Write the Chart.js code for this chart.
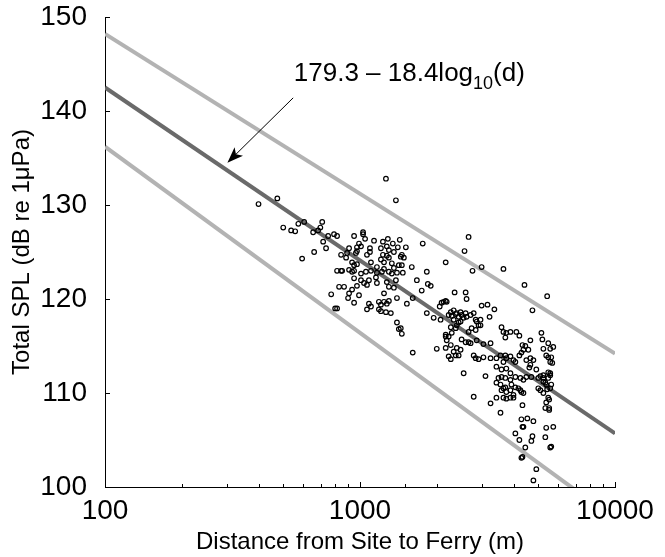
<!DOCTYPE html>
<html>
<head>
<meta charset="utf-8">
<script src="https://cdn.jsdelivr.net/npm/chart.js@4.4.0/dist/chart.umd.min.js"></script>
<style>
  html, body { margin: 0; padding: 0; background: #fff; }
  #wrap { width: 665px; height: 557px; }
</style>
</head>
<body>
<div id="wrap"><canvas id="chart" width="665" height="557"></canvas></div>
<script>
// measured points, distance (m) and total SPL (dB re 1uPa)
const distances = [
  400, 474, 500, 537, 557, 573, 604, 711, 699, 655, 685, 750, 791, 717, 736, 661, 593,
  1264, 1383, 813, 948, 1028, 1028, 1047, 1135, 1286, 1432, 1345, 1230, 1762, 1513, 1407, 1274,
  991, 973, 1009, 906, 1094, 1208, 1298, 1358, 973, 964, 1094, 843, 882, 890, 1065, 1230,
  1274, 1445, 1486, 1459, 931, 973, 948, 1104, 1208, 1242, 1298, 1333, 1420, 1459, 1596, 1828,
  851, 906, 948, 2168,
  2666, 2570, 2999, 2762, 3652,
  771, 799,
  813, 843, 931, 1009, 1055, 1104, 1165, 1219, 1298, 1333, 1396, 1472, 1671, 828, 866, 906,
  931, 973, 991, 1009, 1037, 1065, 1084, 948, 898, 948, 813, 1065, 1104, 1084, 1186, 1208,
  1242, 1298, 1274, 1186, 1208, 1264, 1321, 1242, 1298, 1358, 1383, 1274, 1165, 1155, 1396, 1527,
  1746, 1845, 1894, 1610, 1396, 1445, 1459, 1420, 1610, 2000, 1828, 1945, 2070, 2054, 2128, 2089,
  2168, 2168, 1165, 1242, 1358,
  4416, 5420, 4745, 2350, 2596, 2618, 2168, 2188, 2999, 3162, 3365, 3222,
  2270, 2330, 2396, 2480, 2227, 2290, 2374, 2437, 2503, 2550, 2618, 2596, 2715, 2792, 2842, 2868,
  2969, 2917, 2740, 2842, 2969, 2666, 2437, 2330, 2396, 2480, 2270, 2374, 2290, 2227, 2168, 2188,
  3589, 3652, 3748, 3890, 3715, 4104, 4217, 4657, 5145, 5190, 5474, 5727, 5573, 5237,
  2715, 2868, 3048, 3251, 2666, 2596, 2503, 2270, 2396, 2480, 2330, 2227, 2270, 2374, 2437,
  2792, 2842, 2917, 3048, 3251, 3428, 3556, 3715, 3748, 3890, 3998, 3652, 3428, 3589, 3748, 3890,
  4067, 4217, 4374, 4449, 4336, 4490, 4657, 4786, 4614, 4657, 4914, 5097, 5237, 5474, 5573, 5623,
  5374, 4573, 4295, 2550, 3105,
  3492, 3589, 3715, 3890, 4067, 4256, 4374, 4490, 4699, 5003, 5237, 5474, 5573,
  3428, 3556, 3652, 3715, 3589, 3748, 3890, 3925, 4067, 4180, 4256, 4295, 4374, 3998, 3890, 3748,
  3652, 3998, 5003, 5097, 5237, 5374, 5573, 5623,
  2792, 3428, 3251, 3556, 4336, 5474, 5374, 5330, 5520, 4295, 4532, 4786, 4336, 4374, 4067, 4217,
  4449, 4699, 4745, 4336, 4295, 4914, 4786, 5374, 5727, 5330, 5573, 5623,
  5474, 5675, 5237, 5330, 5573, 5420, 5520, 5520
];
const levels = [
  130.1, 130.7, 127.6, 127.3, 127.2, 128.0, 128.2, 128.2, 127.6, 127.1, 127.3, 126.7, 126.9, 126.1, 125.4, 125.0, 124.3,
  132.8, 130.5, 126.7, 126.7, 127.1, 126.9, 126.4, 126.2, 126.4, 126.3, 125.9, 126.1, 125.9, 125.5, 125.5, 125.6,
  125.9, 125.5, 125.6, 125.4, 125.4, 125.4, 125.2, 125.0, 125.1, 124.9, 125.0, 124.7, 124.4, 124.9, 124.7, 124.7,
  124.6, 124.5, 124.4, 124.7, 123.9, 123.7, 123.6, 123.9, 124.2, 123.9, 124.4, 123.8, 123.6, 123.6, 123.4, 122.9,
  123.0, 123.1, 123.0, 123.9,
  126.6, 125.1, 123.4, 123.0, 123.2,
  120.5, 119.0,
  123.0, 123.0, 122.9, 122.7, 122.9, 123.0, 122.8, 122.9, 122.9, 122.7, 122.8, 122.8, 122.0, 121.3, 121.3, 120.6,
  121.0, 121.4, 120.4, 122.0, 121.7, 121.5, 122.0, 122.2, 120.1, 119.6, 119.0, 118.9, 119.2, 119.5, 119.7, 119.4,
  119.7, 119.8, 119.5, 118.9, 118.7, 118.6, 118.5, 120.6, 121.3, 121.2, 122.0, 121.8, 121.7, 122.3, 120.1, 119.5,
  120.9, 121.6, 121.4, 120.1, 117.5, 116.9, 116.3, 116.8, 114.3, 114.7, 118.5, 118.0, 117.8, 119.2, 119.7, 119.6,
  116.0, 114.8, 123.4, 123.2, 123.3,
  121.5, 120.3, 118.8, 120.7, 120.7, 120.0, 119.8, 119.7, 119.3, 119.4, 118.9, 118.1,
  118.6, 118.8, 118.5, 118.6, 118.3, 118.2, 118.4, 118.1, 118.3, 118.0, 118.1, 118.5, 118.3, 118.5, 117.8, 117.6,
  117.8, 117.2, 116.9, 116.7, 117.2, 116.5, 117.5, 117.8, 117.2, 117.6, 117.0, 116.9, 116.4, 116.0, 116.2, 115.6,
  117.0, 116.5, 116.4, 116.5, 115.9, 116.5, 116.1, 115.6, 116.4, 115.7, 115.3, 114.9, 114.7, 114.7,
  115.3, 115.6, 115.2, 115.3, 115.4, 115.4, 115.7, 115.1, 114.8, 114.6, 114.4, 113.9, 113.6, 114.0, 114.0,
  114.0, 113.7, 113.6, 113.8, 113.7, 113.7, 114.0, 114.0, 113.7, 113.9, 113.5, 113.3, 112.8, 112.5, 112.6, 112.1,
  113.3, 114.0, 114.6, 115.0, 115.1, 113.5, 113.7, 113.5, 112.7, 113.0, 112.5, 111.8, 111.9, 112.2, 113.3, 113.8,
  114.0, 114.6, 114.3, 112.1, 111.8,
  111.6, 111.7, 111.6, 111.4, 111.7, 111.6, 111.4, 111.7, 111.7, 111.6, 111.6, 111.6, 111.9,
  111.1, 110.9, 110.5, 110.6, 110.3, 110.1, 110.3, 110.9, 110.6, 110.5, 110.3, 110.1, 110.0, 109.8, 109.5, 109.4,
  109.5, 109.5, 110.5, 110.3, 110.0, 110.9, 110.5, 110.9,
  109.6, 109.5, 108.9, 107.9, 108.7, 109.5, 109.0, 108.4, 108.4, 107.2, 107.3, 107.0, 106.4, 106.4, 105.7, 105.0,
  104.2, 104.9, 105.4, 103.2, 103.1, 101.9, 100.7, 106.3, 106.4, 105.3, 104.2, 104.3,
  113.8, 113.2, 111.2, 111.1, 112.1, 110.4, 109.3, 108.2
];

// regression line and bounds, values at 100 m and 10 km
const lineDist = [100, 10000];
const fitLine = [142.5, 105.7];
const upperBound = [148.2, 114.2];
const lowerBound = [136.2, 96.6];

const xLabelValues = [100, 1000, 10000];
const yTickValues = [100, 110, 120, 130, 140, 150];

// annotation anchors (data units)
const noteText = { d: 550, spl: 143.2 };
const arrowFrom = { d: 547, spl: 141.4 };
const arrowTo = { d: 302, spl: 134.5 };

const FONT = "'Liberation Sans', Arial, Helvetica, sans-serif";
Chart.defaults.font.family = FONT;
Chart.defaults.font.size = 24;
Chart.defaults.color = '#000';

const toPoints = (xs, ys) => xs.map((x, i) => ({ x: x, y: ys[i] }));

const lineSet = (label, values, color) => ({
  type: 'line',
  label: label,
  data: toPoints(lineDist, values),
  borderColor: color,
  borderWidth: 4,
  pointRadius: 0,
  fill: false,
  clip: 0,
  order: 2
});

// inward ticks + the formula note
const decor = {
  id: 'decor',
  afterDraw(chart) {
    const { ctx, scales: { x, y } } = chart;
    ctx.save();
    ctx.strokeStyle = '#000';
    ctx.lineWidth = 1;
    ctx.beginPath();
    yTickValues.forEach(v => {
      const py = Math.round(y.getPixelForValue(v)) + 0.5;
      ctx.moveTo(x.left, py);
      ctx.lineTo(x.left + 5, py);
    });
    x.ticks.forEach(t => {
      const px = Math.round(x.getPixelForValue(t.value)) + 0.5;
      const lg = Math.log10(t.value);
      const major = Math.abs(lg - Math.round(lg)) < 1e-9;
      ctx.moveTo(px, y.bottom);
      ctx.lineTo(px, y.bottom - (major ? 5 : 3));
    });
    ctx.stroke();

    // arrow
    const x0 = x.getPixelForValue(arrowFrom.d), y0 = y.getPixelForValue(arrowFrom.spl);
    const x1 = x.getPixelForValue(arrowTo.d), y1 = y.getPixelForValue(arrowTo.spl);
    const ang = Math.atan2(y1 - y0, x1 - x0);
    const len = 16, half = 6;
    const bx = x1 - len * Math.cos(ang), by = y1 - len * Math.sin(ang);
    ctx.beginPath();
    ctx.moveTo(x0, y0);
    ctx.lineTo(bx + 4 * Math.cos(ang), by + 4 * Math.sin(ang));
    ctx.stroke();
    ctx.fillStyle = '#000';
    ctx.beginPath();
    ctx.moveTo(x1, y1);
    ctx.lineTo(bx - half * Math.sin(ang), by + half * Math.cos(ang));
    ctx.lineTo(bx + 4 * Math.cos(ang), by + 4 * Math.sin(ang));
    ctx.lineTo(bx + half * Math.sin(ang), by - half * Math.cos(ang));
    ctx.closePath();
    ctx.fill();

    // formula text with subscript
    let tx = x.getPixelForValue(noteText.d);
    const ty = y.getPixelForValue(noteText.spl);
    ctx.textBaseline = 'alphabetic';
    ctx.textAlign = 'left';
    ctx.font = '26px ' + FONT;
    const main = '179.3 \u2013 18.4log';
    ctx.fillText(main, tx, ty);
    tx += ctx.measureText(main).width;
    ctx.font = '18px ' + FONT;
    ctx.fillText('10', tx, ty + 8);
    tx += ctx.measureText('10').width;
    ctx.font = '26px ' + FONT;
    ctx.fillText('(d)', tx, ty);
    ctx.restore();
  }
};

new Chart(document.getElementById('chart'), {
  type: 'scatter',
  data: {
    datasets: [
      {
        label: 'SPL',
        data: toPoints(distances, levels),
        pointStyle: 'circle',
        pointRadius: 2.3,
        pointBorderWidth: 1.2,
        pointBorderColor: '#000',
        pointBackgroundColor: 'rgba(0,0,0,0)',
        showLine: false,
        clip: false,
        order: 0
      },
      lineSet('fit', fitLine, '#6a6a6a'),
      lineSet('upper', upperBound, '#b3b3b3'),
      lineSet('lower', lowerBound, '#b3b3b3')
    ]
  },
  options: {
    responsive: false,
    devicePixelRatio: 1,
    animation: false,
    events: [],
    layout: { padding: { top: 17, right: 50, bottom: 0, left: 0 } },
    plugins: { legend: { display: false }, tooltip: { enabled: false } },
    scales: {
      x: {
        type: 'logarithmic',
        min: 100,
        max: 10000,
        grid: { display: false, drawTicks: false },
        border: { display: true, color: '#000', width: 1 },
        afterFit: s => { s.height = 70; s.paddingLeft = 0; s.paddingRight = 0; },
        ticks: {
          autoSkip: false,
          maxRotation: 0,
          padding: 7,
          font: { size: 28 },
          callback: v => xLabelValues.includes(v) ? String(v) : ''
        },
        title: {
          display: true,
          text: 'Distance from Site to Ferry (m)',
          padding: { top: 0, bottom: 0 }
        }
      },
      y: {
        min: 100,
        max: 150,
        grid: { display: false, drawTicks: false },
        border: { display: true, color: '#000', width: 1 },
        // keep the plot box fixed, labels may overhang
        afterFit: s => { s.width = 105; s.paddingTop = 0; s.paddingBottom = 0; },
        ticks: { stepSize: 10, padding: 18, font: { size: 28 } },
        title: {
          display: true,
          text: 'Total SPL (dB re 1\u03bcPa)',
          padding: { top: 8, bottom: 0 }
        }
      }
    }
  },
  plugins: [decor]
});
</script>
</body>
</html>
